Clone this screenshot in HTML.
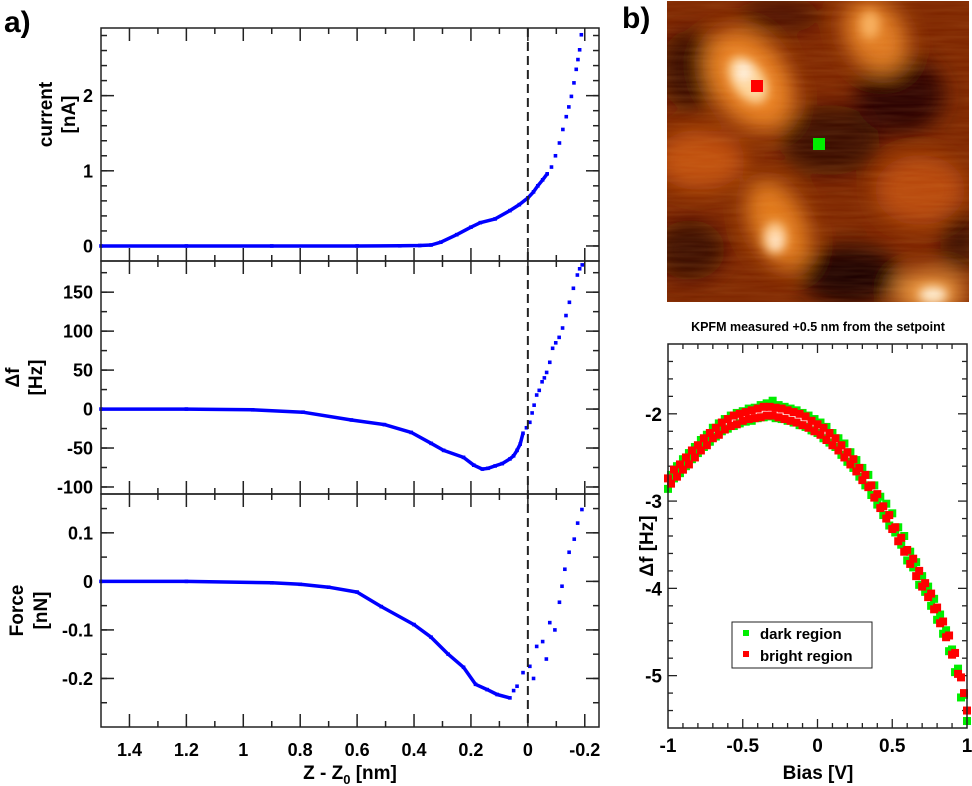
<!DOCTYPE html>
<html><head><meta charset="utf-8"><style>
html,body{margin:0;padding:0;background:#fff;}
svg{display:block;font-family:"Liberation Sans",Arial,sans-serif;font-weight:bold;}
</style></head><body>
<svg id="fig" width="972" height="786" viewBox="0 0 972 786">
<defs>
<filter id="bl" x="-50%" y="-50%" width="200%" height="200%"><feGaussianBlur stdDeviation="11"/></filter>
<filter id="bl2" x="-50%" y="-50%" width="200%" height="200%"><feGaussianBlur stdDeviation="5"/></filter>
<filter id="tex" x="0" y="0" width="100%" height="100%"><feTurbulence type="fractalNoise" baseFrequency="0.02 0.25" numOctaves="2" seed="3"/><feColorMatrix type="matrix" values="0 0 0 0 0.9  0 0 0 0 0.45  0 0 0 0 0.1  0 0 0 0.5 -0.1"/></filter>
<clipPath id="imgclip"><rect x="667" y="1" width="302" height="301"/></clipPath>
</defs>
<text x="4" y="32" font-size="30">a)</text>
<text x="622" y="28" font-size="30">b)</text>

<g clip-path="url(#imgclip)">
<rect x="667" y="1" width="302" height="301" fill="#7e2600"/>
<g filter="url(#bl)">
<ellipse cx="690" cy="70" rx="30" ry="40" fill="#3a0800"/>
<ellipse cx="830" cy="140" rx="50" ry="35" fill="#3a0800"/>
<ellipse cx="900" cy="95" rx="45" ry="40" fill="#2a0500"/>
<ellipse cx="690" cy="250" rx="35" ry="30" fill="#3a0800"/>
<ellipse cx="850" cy="275" rx="50" ry="30" fill="#1e0300"/>
<ellipse cx="960" cy="240" rx="20" ry="30" fill="#3a0800"/>
<ellipse cx="780" cy="15" rx="40" ry="18" fill="#4a0c00"/>
<ellipse cx="700" cy="160" rx="45" ry="30" fill="#c05010"/>
<ellipse cx="920" cy="190" rx="45" ry="35" fill="#b84a0c"/>
<ellipse cx="750" cy="80" rx="38" ry="55" fill="#e98020" transform="rotate(-35 750 80)"/>
<ellipse cx="875" cy="35" rx="30" ry="40" fill="#e07a20" transform="rotate(-30 875 35)"/>
<ellipse cx="778" cy="225" rx="28" ry="48" fill="#e27a1e" transform="rotate(-25 778 225)"/>
<ellipse cx="930" cy="292" rx="35" ry="20" fill="#f09a40"/>
</g>
<g filter="url(#bl2)">
<ellipse cx="748" cy="80" rx="16" ry="26" fill="#ffd8a0" transform="rotate(-35 748 80)"/>
<ellipse cx="744" cy="72" rx="7" ry="9" fill="#fff4e6"/>
<ellipse cx="775" cy="238" rx="12" ry="16" fill="#ffd09a"/>
<ellipse cx="776" cy="242" rx="5" ry="5" fill="#fff4e6"/>
<ellipse cx="933" cy="295" rx="14" ry="8" fill="#fff0d8"/>
<ellipse cx="870" cy="25" rx="10" ry="14" fill="#f8b060"/>
</g>
<rect x="667" y="1" width="302" height="301" filter="url(#tex)" opacity="0.35"/>
</g>
<rect x="751" y="80" width="12" height="12" fill="#ff0000"/>
<rect x="813" y="138" width="12" height="12" fill="#00ee00"/>

<text x="818" y="331" font-size="12.5" text-anchor="middle">KPFM measured +0.5 nm from the setpoint</text>
<g id="left"></g>
<g id="right"></g>
</svg>
<script>
// ---- left panel data ----
const xTicksLeft = [1.4, 1.2, 1, 0.8, 0.6, 0.4, 0.2, 0, -0.2];
const xTickLabelsLeft = ["1.4", "1.2", "1", "0.8", "0.6", "0.4", "0.2", "0", "-0.2"];
const currentZ = [1.5, 1.2, 0.9, 0.6, 0.45, 0.38, 0.34, 0.306, 0.25, 0.2, 0.167, 0.115, 0.063, 0.03, 0, -0.02, -0.035, -0.052, -0.068, -0.083, -0.097, -0.111, -0.123, -0.135, -0.144, -0.153, -0.162, -0.17, -0.176, -0.182, -0.188];
const currentI = [0, 0, 0, 0, 0.002, 0.006, 0.013, 0.05, 0.15, 0.25, 0.31, 0.36, 0.47, 0.55, 0.64, 0.72, 0.8, 0.88, 0.96, 1.05, 1.2, 1.37, 1.55, 1.72, 1.85, 1.99, 2.17, 2.35, 2.48, 2.61, 2.81];
const yTicksCurrent = [0, 1, 2];
const dfZ = [1.5, 1.2, 0.967, 0.79, 0.62, 0.504, 0.41, 0.34, 0.296, 0.226, 0.19, 0.16, 0.14, 0.115, 0.09, 0.063, 0.05, 0.038, 0.027, 0.017, 0.005, -0.007, -0.015, -0.022, -0.031, -0.04, -0.05, -0.058, -0.066, -0.077, -0.087, -0.098, -0.11, -0.122, -0.134, -0.146, -0.16, -0.174, -0.182, -0.191];
const dfV = [0, 0, -1, -4, -14, -20, -30, -44, -53, -62, -72, -77, -76, -73, -70, -64, -60, -53, -45, -31, -24, -17, -5, 5, 18, 24, 35, 40, 47, 60, 78, 85, 92, 104, 120, 137, 155, 172, 180, 185];
const yTicksDf = [-100, -50, 0, 50, 100, 150];
const forceZ = [1.5, 1.2, 0.9, 0.8, 0.7, 0.6, 0.515, 0.4, 0.34, 0.28, 0.226, 0.184, 0.143, 0.108, 0.063, 0.05, 0.038, 0.017, -0.007, -0.02, -0.031, -0.052, -0.065, -0.077, -0.095, -0.111, -0.12, -0.13, -0.145, -0.163, -0.175, -0.19];
const forceF = [0, 0, -0.003, -0.006, -0.012, -0.022, -0.052, -0.089, -0.115, -0.15, -0.177, -0.212, -0.223, -0.233, -0.24, -0.225, -0.216, -0.188, -0.175, -0.2, -0.134, -0.124, -0.16, -0.085, -0.1, -0.043, -0.01, 0.025, 0.06, 0.087, 0.12, 0.148];
const yTicksForce = [-0.2, -0.1, 0, 0.1];
const yTickLabelsForce = ["-0.2", "-0.1", "0", "0.1"];

// ---- right panel data ----
const biasX = [];
for (let i = 0; i <= 100; i++) biasX.push(-1 + i * 0.02);
const darkDf = [-2.86,-2.70,-2.74,-2.60,-2.68,-2.52,-2.60,-2.45,-2.52,-2.38,
-2.45,-2.30,-2.38,-2.24,-2.32,-2.16,-2.26,-2.11,-2.20,-2.06,
-2.17,-2.02,-2.14,-1.99,-2.11,-1.97,-2.09,-1.94,-2.08,-1.93,
-2.05,-1.90,-2.04,-1.88,-2.03,-1.85,-2.05,-1.90,-2.06,-1.92,
-2.08,-1.94,-2.10,-1.96,-2.13,-1.99,-2.15,-2.02,-2.19,-2.06,
-2.22,-2.10,-2.28,-2.15,-2.33,-2.22,-2.38,-2.28,-2.47,-2.34,
-2.55,-2.44,-2.62,-2.53,-2.72,-2.62,-2.82,-2.70,-2.93,-2.82,
-3.04,-2.95,-3.16,-3.03,-3.28,-3.14,-3.36,-3.30,-3.50,-3.40,
-3.68,-3.58,-3.76,-3.70,-3.96,-3.86,-4.04,-3.98,-4.20,-4.12,
-4.36,-4.30,-4.52,-4.48,-4.72,-4.70,-4.96,-4.92,-5.25,-5.22,-5.52];
const brightDf = [-2.74,-2.80,-2.64,-2.72,-2.58,-2.64,-2.50,-2.58,-2.42,-2.50,
-2.36,-2.42,-2.28,-2.36,-2.22,-2.28,-2.16,-2.24,-2.10,-2.18,
-2.06,-2.14,-2.02,-2.12,-2.00,-2.08,-1.98,-2.06,-1.96,-2.05,
-1.94,-2.04,-1.92,-2.02,-1.92,-2.02,-1.93,-2.04,-1.94,-2.06,
-1.96,-2.08,-1.98,-2.10,-2.00,-2.13,-2.03,-2.16,-2.08,-2.20,
-2.12,-2.24,-2.16,-2.30,-2.22,-2.36,-2.28,-2.42,-2.36,-2.50,
-2.44,-2.58,-2.52,-2.66,-2.62,-2.76,-2.70,-2.84,-2.82,-2.96,
-2.92,-3.08,-3.06,-3.20,-3.16,-3.32,-3.30,-3.46,-3.42,-3.58,
-3.56,-3.72,-3.66,-3.86,-3.80,-3.98,-3.94,-4.10,-4.06,-4.24,
-4.22,-4.40,-4.38,-4.56,-4.54,-4.76,-4.74,-4.98,-5.02,-5.20,-5.40];
const xTicksBias = [-1, -0.5, 0, 0.5, 1];
const xTickLabelsBias = ["-1", "-0.5", "0", "0.5", "1"];
const yTicksKpfm = [-5, -4, -3, -2];

const NS = "http://www.w3.org/2000/svg";
function mk(parent, tag, attrs, txt) {
  const e = document.createElementNS(NS, tag);
  for (const k in attrs) e.setAttribute(k, attrs[k]);
  if (txt !== undefined) e.textContent = txt;
  parent.appendChild(e);
  return e;
}
function lin(d0, d1, r0, r1) { return v => r0 + (v - d0) / (d1 - d0) * (r1 - r0); }

const L = document.getElementById('left');
const X0 = 101, X1 = 599;
const xL = lin(1.5, -0.25, X0, X1);
const panels = [
  {top: 28, bot: 261, d0: -0.2, d1: 2.9, major: yTicksCurrent, labels: yTicksCurrent.map(String), minor: 0.2, zs: currentZ, vs: currentI, name: 'current', t1: 'current', t2: '[nA]', tx1: 45, tx2: 68, nDense: 19},
  {top: 261, bot: 494, d0: -109, d1: 190, major: yTicksDf, labels: yTicksDf.map(String), minor: 25, zs: dfZ, vs: dfV, name: 'df', t1: '\u0394f', t2: '[Hz]', tx1: 12, tx2: 35, nDense: 20},
  {top: 494, bot: 727, d0: -0.3, d1: 0.18, major: yTicksForce, labels: yTickLabelsForce, minor: 0.05, zs: forceZ, vs: forceF, name: 'force', t1: 'Force', t2: '[nN]', tx1: 16, tx2: 40, nDense: 15}
];
panels.forEach((p) => {
  const g = mk(L, 'g', {});
  
  
  const y = lin(p.d0, p.d1, p.bot, p.top);
  for (let i = 0; i <= 17; i++) {
    const v = 1.5 - i * 0.1;
    const px = xL(v);
    const isMaj = Math.abs(Math.round(v * 10) % 2) === 0;
    const len = isMaj ? 13 : 6;
    if (px <= X0 + 1 || px >= X1 - 1) continue;
    mk(g, 'line', {x1: px, x2: px, y1: p.top, y2: p.top + len, stroke: '#222', 'stroke-width': 1.5});
    mk(g, 'line', {x1: px, x2: px, y1: p.bot, y2: p.bot - len, stroke: '#222', 'stroke-width': 1.5});
  }
  const start = Math.ceil(p.d0 / p.minor) * p.minor;
  for (let v = start; v <= p.d1 + 1e-9; v += p.minor) {
    const py = y(v);
    if (py >= p.bot - 1 || py <= p.top + 1) continue;
    mk(g, 'line', {x1: X0, x2: X0 + 6, y1: py, y2: py, stroke: '#222', 'stroke-width': 1.5});
    mk(g, 'line', {x1: X1, x2: X1 - 6, y1: py, y2: py, stroke: '#222', 'stroke-width': 1.5});
  }
  p.major.forEach((v, i) => {
    const py = y(v);
    mk(g, 'line', {x1: X0, x2: X0 + 13, y1: py, y2: py, stroke: '#222', 'stroke-width': 1.5});
    mk(g, 'line', {x1: X1, x2: X1 - 13, y1: py, y2: py, stroke: '#222', 'stroke-width': 1.5});
    const t = mk(g, 'text', {x: X0 - 8, y: py + 6.5, 'font-size': 18, 'text-anchor': 'end'}, p.labels[i]);
    
    
  });
  const pts = p.zs.map((z, i) => xL(z).toFixed(1) + ',' + y(p.vs[i]).toFixed(1));
  const pl = mk(g, 'polyline', {points: pts.slice(0, p.nDense).join(' '), fill: 'none', stroke: '#0000ff', 'stroke-width': 3.5, 'stroke-linejoin': 'round'});
  
  
  p.zs.forEach((z, i) => {
    const r = mk(g, 'rect', {x: xL(z) - 1.8, y: y(p.vs[i]) - 1.8, width: 3.6, height: 3.6, fill: '#0000ff'});
    
    
  });
  const box = mk(g, 'rect', {x: X0, y: p.top, width: X1 - X0, height: p.bot - p.top, fill: 'none', stroke: '#222', 'stroke-width': 1.5});
  
  
  const cy = (p.top + p.bot) / 2 - (p.name === 'current' ? 30 : 0);
  const a = mk(g, 'text', {x: 0, y: 0, 'font-size': 19, 'text-anchor': 'middle', transform: `translate(${p.tx1 + 7},${cy}) rotate(-90)`}, p.t1);
  
  
  const b = mk(g, 'text', {x: 0, y: 0, 'font-size': 19, 'text-anchor': 'middle', transform: `translate(${p.tx2 + 7},${cy}) rotate(-90)`}, p.t2);
  
  
});
const dash = mk(L, 'line', {x1: xL(0), x2: xL(0), y1: 28, y2: 727, stroke: '#222', 'stroke-width': 2, 'stroke-dasharray': '9,5'});


xTicksLeft.forEach((v, i) => {
  const t = mk(L, 'text', {x: xL(v), y: 756, 'font-size': 18, 'text-anchor': 'middle'}, xTickLabelsLeft[i]);
  
  
});
const xt = mk(L, 'text', {x: 350, y: 779, 'font-size': 19, 'text-anchor': 'middle'});


xt.innerHTML = 'Z - Z<tspan font-size="13" dy="5">0</tspan><tspan dy="-5"> [nm]</tspan>';

// ---- right chart ----
const R = document.getElementById('right');
const RX0 = 668, RX1 = 967, RY0 = 344, RY1 = 728;
const xB = lin(-1, 1, RX0, RX1);
const yK = lin(-5.6, -1.2, RY1, RY0);
for (let i = 1; i < 20; i++) {
  const v = -1 + i * 0.1, px = xB(v);
  const len = (i % 5 === 0) ? 9 : 5;
  mk(R, 'line', {x1: px, x2: px, y1: RY1, y2: RY1 - len, stroke: '#222', 'stroke-width': 1.3});
  mk(R, 'line', {x1: px, x2: px, y1: RY0, y2: RY0 + len, stroke: '#222', 'stroke-width': 1.3});
}
for (let i = 1; i < 22; i++) {
  const v = -5.6 + i * 0.2, py = yK(v);
  const len = (Math.abs(v - Math.round(v)) < 1e-6) ? 9 : 5;
  mk(R, 'line', {x1: RX0, x2: RX0 + len, y1: py, y2: py, stroke: '#222', 'stroke-width': 1.3});
  mk(R, 'line', {x1: RX1, x2: RX1 - len, y1: py, y2: py, stroke: '#222', 'stroke-width': 1.3});
}
yTicksKpfm.forEach(v => {
  const t = mk(R, 'text', {x: RX0 - 6, y: yK(v) + 7, 'font-size': 19, 'text-anchor': 'end'}, String(v));
  
  
});
xTicksBias.forEach((v, i) => {
  const t = mk(R, 'text', {x: xB(v), y: 752, 'font-size': 19, 'text-anchor': 'middle'}, xTickLabelsBias[i]);
  
  
});
biasX.forEach((b, i) => {
  if (darkDf[i] === undefined) return;
  const r = mk(R, 'rect', {x: xB(b) - 4, y: yK(darkDf[i]) - 4, width: 8, height: 8, fill: '#00ee00'});
  
  
});
biasX.forEach((b, i) => {
  if (brightDf[i] === undefined) return;
  const r = mk(R, 'rect', {x: xB(b) - 4, y: yK(brightDf[i]) - 4, width: 8, height: 8, fill: '#ff0000'});
  
  
});
const rf = mk(R, 'rect', {x: RX0, y: RY0, width: RX1 - RX0, height: RY1 - RY0, fill: 'none', stroke: '#222', 'stroke-width': 1.5});


const lg = mk(R, 'g', {});


mk(lg, 'rect', {x: 732, y: 622, width: 140, height: 46, fill: '#fff', stroke: '#222', 'stroke-width': 1});
mk(lg, 'rect', {x: 743, y: 630, width: 6, height: 6, fill: '#00ee00'});
const l1 = mk(lg, 'text', {x: 760, y: 639, 'font-size': 15}, 'dark region');


mk(lg, 'rect', {x: 743, y: 651, width: 6, height: 6, fill: '#ff0000'});
const l2 = mk(lg, 'text', {x: 760, y: 661, 'font-size': 15}, 'bright region');


const bx = mk(R, 'text', {x: 818, y: 779, 'font-size': 19, 'text-anchor': 'middle'}, 'Bias [V]');


const by = mk(R, 'text', {x: 0, y: 0, 'font-size': 19, 'text-anchor': 'middle', transform: 'translate(653,546) rotate(-90)'}, '\u0394f [Hz]');


</script>
</body></html>
